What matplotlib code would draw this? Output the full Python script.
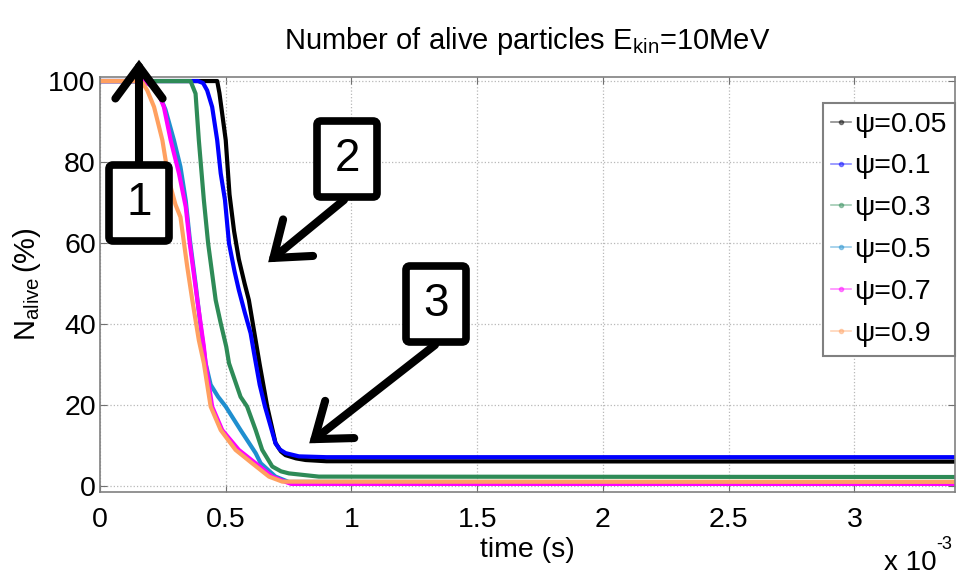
import numpy as np
import matplotlib
matplotlib.use("Agg")
import matplotlib.pyplot as plt
from matplotlib.lines import Line2D
from matplotlib.patches import FancyBboxPatch, FancyArrowPatch
from matplotlib.ticker import FuncFormatter

plt.rcParams['font.family'] = ['Liberation Sans', 'DejaVu Sans']
plt.rcParams['mathtext.fontset'] = 'custom'
plt.rcParams['mathtext.rm'] = 'Liberation Sans'
plt.rcParams['mathtext.it'] = 'Liberation Sans'

# time in ms, N_alive in %
labels = ['ψ=0.05', 'ψ=0.1', 'ψ=0.3', 'ψ=0.5', 'ψ=0.7', 'ψ=0.9']
colors = ['#000000', '#0000ff', '#2e8b57', '#1f8fcf', '#ff00ff', '#ffa060']

t_005 = [0, 0.466, 0.475, 0.50, 0.515, 0.533, 0.552, 0.575, 0.592, 0.612, 0.635, 0.665, 0.698, 0.72, 0.738, 0.78, 0.818, 0.9, 3.4]
n_005 = [100, 100, 97, 85.4, 72, 63, 56, 50, 45.9, 38.5, 30, 19.6, 10.6, 8.5, 7.6, 6.8, 6.4, 6.1, 6.0]

t_01 = [0, 0.39, 0.41, 0.426, 0.446, 0.466, 0.48, 0.497, 0.513, 0.535, 0.552, 0.575, 0.599, 0.612, 0.635, 0.656, 0.698, 0.715, 0.738, 0.791, 0.9, 3.4]
n_01 = [100, 100, 99.5, 97.7, 93.6, 85.4, 77.2, 70.6, 59.9, 53, 48.4, 43, 37.7, 33, 25, 19.6, 10.5, 9.0, 8.1, 7.3, 7.1, 7.1]

t_03 = [0, 0.36, 0.38, 0.393, 0.413, 0.43, 0.46, 0.48, 0.502, 0.513, 0.559, 0.585, 0.619, 0.645, 0.685, 0.72, 0.751, 0.87, 3.4]
n_03 = [100, 100, 96.9, 85.4, 70.6, 59.9, 45.9, 40.2, 34.4, 30.3, 22, 19.6, 13.8, 8.9, 4.8, 3.6, 3.1, 2.3, 2.2]

t_05 = [0, 0.17, 0.2, 0.228, 0.26, 0.294, 0.32, 0.341, 0.357, 0.38, 0.40, 0.42, 0.44, 0.47, 0.5, 0.559, 0.619, 0.639, 0.698, 0.75, 3.4]
n_05 = [100, 100, 99, 97.7, 93, 85.4, 78.8, 70.5, 61, 50, 39.5, 30.3, 25, 22, 19.6, 13.8, 8.1, 5.6, 2.3, 1.0, 0.9]

t_07 = [0, 0.175, 0.2, 0.228, 0.254, 0.281, 0.314, 0.341, 0.357, 0.387, 0.413, 0.42, 0.446, 0.486, 0.552, 0.619, 0.685, 0.738, 0.76, 3.4]
n_07 = [100, 100, 99, 97.7, 93.6, 85.4, 77.2, 68.9, 59.9, 45.9, 34.4, 30.3, 19.6, 13.8, 8.9, 5.6, 2.3, 1.0, 0.5, 0.5]

t_09 = [0, 0.15, 0.17, 0.188, 0.215, 0.248, 0.274, 0.3, 0.32, 0.347, 0.367, 0.393, 0.413, 0.44, 0.48, 0.539, 0.605, 0.672, 0.725, 3.4]
n_09 = [100, 100, 99.5, 97.7, 93.6, 85.4, 75.5, 69.5, 66.4, 54.1, 45.9, 36, 30.3, 19.6, 13.8, 8.9, 5.6, 2.3, 1.06, 1.0]

series = [(t_005, n_005), (t_01, n_01), (t_03, n_03), (t_05, n_05), (t_07, n_07), (t_09, n_09)]

fig = plt.figure(figsize=(9.6, 5.75), dpi=100)
ax = fig.add_axes([100/960, 83/575, 855/960, 415/575])

for (t, n), c in zip(series, colors):
    ax.plot(np.array(t)*1e-3, n, color=c, lw=3.0, solid_joinstyle='round')

ax.set_xlim(0, 3.4e-3)
ax.set_ylim(-1.5, 101)
ax.set_xticks(np.arange(0, 3.01e-3, 0.5e-3))
ax.set_yticks([0, 20, 40, 60, 80, 100])
ax.xaxis.set_major_formatter(FuncFormatter(lambda v, p: '%g' % round(v*1e3, 2)))
ax.grid(True, color='#b8b8b8', ls=':', lw=0.9)
ax.tick_params(direction='in', length=5, color='#707070', labelsize=20.5, top=True, right=True)
ax.tick_params(axis='x', pad=11)
ax.tick_params(axis='y', pad=3)
for s in ax.spines.values():
    s.set_color('#808080')
    s.set_linewidth(1.2)

ax.set_title(r'Number of alive particles E$_{\rm kin}$=10MeV', fontsize=21, pad=20)
ax.set_xlabel('time (s)', fontsize=20.5, labelpad=3)
ax.set_ylabel(r'N$_{\rm alive}\,$(%)', fontsize=21, labelpad=4)
fig.text(884/960, 1-570/575, 'x 10', fontsize=20, va='baseline')
fig.text(936/960, 1-549/575, '-3', fontsize=13, va='baseline')

handles = [Line2D([], [], color=c, lw=1.2, marker='o', ms=3, alpha=0.45) for c in colors]
leg = ax.legend(handles, labels, loc='upper right', bbox_to_anchor=(1.0, 1 - 26/415),
                borderaxespad=0, fontsize=20.5, handlelength=0.7, handletextpad=0.1,
                labelspacing=0.56, fancybox=False, framealpha=1, borderpad=0.3)
leg.get_frame().set_edgecolor('#808080')
leg.get_frame().set_linewidth(1.5)

# numbered call-out boxes with arrows (figure pixels from the top-left)
def px(x, y):
    return (x/100, (575 - y)/100)

def callout(text, cx, cy, start, tip):
    w, h = 60, 76
    x0, y0 = px(cx - w/2, cy + h/2)
    box = FancyBboxPatch((x0, y0), w/100, h/100, boxstyle='round,pad=0,rounding_size=0.04',
                         transform=fig.dpi_scale_trans, fc='white', ec='black', lw=5.5, zorder=10)
    fig.patches.append(box)
    arr = FancyArrowPatch(px(*start), px(*tip), transform=fig.dpi_scale_trans,
                          arrowstyle='->,head_length=1.15,head_width=0.85', mutation_scale=20,
                          lw=5.8, color='black', shrinkA=0, shrinkB=2, zorder=11,
                          capstyle='round', joinstyle='miter')
    fig.patches.append(arr)
    fig.text(*px(cx, cy), text, fontsize=33, ha='center', va='center', zorder=12,
             transform=fig.dpi_scale_trans)

callout('1', 139, 203, (139, 162), (139, 57))
callout('2', 347, 159, (344, 200), (266, 264))
callout('3', 436, 304, (435, 345), (307, 445))

fig.savefig('out.png', dpi=100)
